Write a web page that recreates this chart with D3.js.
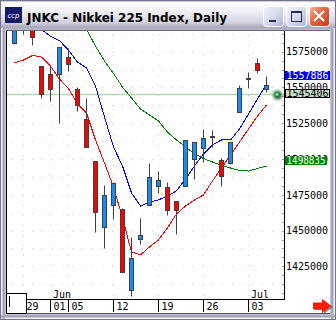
<!DOCTYPE html>
<html>
<head>
<meta charset="utf-8">
<style>
  html, body { margin: 0; padding: 0; background: #fff; }
  svg { display: block; }
  .mono { font-family: "DejaVu Sans Mono", "Liberation Mono", monospace; }
</style>
</head>
<body>
<script src="https://cdnjs.cloudflare.com/ajax/libs/d3/7.8.5/d3.min.js"></script>
<svg id="chart" width="336" height="320"></svg>
<script>
// trading days shown on the chart
const dates = ["05-28","05-29","05-30","05-31","06-01","06-04","06-05","06-06","06-07","06-08",
  "06-11","06-12","06-13","06-14","06-15","06-18","06-19","06-20","06-21","06-22",
  "06-25","06-26","06-27","06-28","06-29","07-02","07-03","07-04","07-05"];

// daily prices
const open  = [1581300,1592000,1590000,1564700,1559300,1559100,1571000,1549000,1527900,1498600,
  1452400,1467700,1465100,1408400,1444400,1467700,1481200,1480300,1470700,1481000,
  1499800,1507500,1516200,1499100,1497400,1532600,1556500,1567000,1549000];
const high  = [1596000,1600000,1595000,1564700,1564700,1578000,1577400,1550200,1542600,1498600,
  1481900,1484000,1465800,1445400,1458800,1497200,1491600,1483700,1470700,1513300,
  1511600,1520900,1520200,1500500,1511900,1551600,1560500,1570500,1558100];
const low   = [1580600,1587200,1579700,1542800,1540700,1525300,1561200,1533300,1508400,1449300,
  1438100,1457900,1421400,1404200,1440900,1467600,1476500,1460700,1447900,1481000,
  1485800,1498100,1508600,1481400,1496500,1532600,1549700,1560200,1546800];
const close = [1592000,1594000,1584900,1545600,1549000,1577900,1566100,1537500,1508700,1462800,
  1474900,1483300,1421400,1431000,1447000,1487400,1485300,1464200,1464200,1513300,
  1511600,1514400,1516200,1488100,1511900,1549300,1556500,1562300,1551400];

// moving averages (red, blue, green)
const maRed   = [1567200,1569100,1572300,1571200,1564900,1555800,1549200,1538400,1532100,1513300,
  1497200,1480500,1458800,1435100,1433000,1438600,1443500,1451900,1461600,1467200,
  1471400,1474900,1484700,1493700,1502800,1511900,1520900,1530000,1537700];
const maBlue  = [1599100,1597000,1594200,1590300,1585800,1582700,1576000,1567700,1563500,1550900,
  1529300,1508400,1495100,1476300,1467200,1470000,1471400,1474200,1477700,1486000,
  1495100,1503500,1509800,1513300,1513300,1520900,1531400,1541900,1552300];
const maGreen = [null,null,null,null,null,null,null,1600500,1590700,1578800,
  1568400,1559700,1550200,1542600,1534900,1530700,1526500,1518800,1513300,1508400,
  1503800,1500300,1497900,1495500,1493700,1492000,1491600,1493400,1495100];

const yTicks = [1425000,1450000,1475000,1500000,1525000,1550000,1575000];
const dayTicks = ["05-29","06-01","06-05","06-12","06-19","06-26","07-03"];
const dayLabels = ["29","01","05","12","19","26","03"];
const monthTicks = ["06-01","07-03"];
const monthLabels = ["Jun","Jul"];
const markerValues = [1557886, 1545406, 1498835];
const title = "JNKC - Nikkei 225 Index, Daily";

const svg = d3.select("#chart");
const W = 336, H = 320;
const plot = {left: 7, right: 284, top: 31, bottom: 299};

const x = d3.scaleBand().domain(dates).range([10, 271]);
const cx = d => x(d) + x.bandwidth() / 2;
const y = d3.scaleLinear().domain([1425000, 1575000]).range([266.4, 51.6]);
const py = v => Math.round(y(v)) + 0.5;

const defs = svg.append("defs");
const tg = defs.append("linearGradient").attr("id", "titleGrad").attr("x1", 0).attr("y1", 0).attr("x2", 0).attr("y2", 1);
[["0", "#b8b8c8"], ["0.06", "#ffffff"], ["0.45", "#ebebf2"], ["0.8", "#d2d2de"], ["1", "#a4a4b8"]]
  .forEach(s => tg.append("stop").attr("offset", s[0]).attr("stop-color", s[1]));
const bg = defs.append("linearGradient").attr("id", "btnGrad").attr("x1", 0).attr("y1", 0).attr("x2", 1).attr("y2", 1);
[["0", "#f2f4fc"], ["0.5", "#d6dcf0"], ["1", "#aab2d2"]]
  .forEach(s => bg.append("stop").attr("offset", s[0]).attr("stop-color", s[1]));
const cg = defs.append("linearGradient").attr("id", "closeGrad").attr("x1", 0).attr("y1", 0).attr("x2", 1).attr("y2", 1);
[["0", "#f8b8a0"], ["0.4", "#e86a48"], ["1", "#c83818"]]
  .forEach(s => cg.append("stop").attr("offset", s[0]).attr("stop-color", s[1]));
defs.append("clipPath").attr("id", "plotClip").append("rect")
  .attr("x", plot.left).attr("y", plot.top).attr("width", plot.right - plot.left).attr("height", plot.bottom - plot.top);
const blur = defs.append("filter").attr("id", "glow").attr("x", "-50%").attr("y", "-50%").attr("width", "200%").attr("height", "200%");
blur.append("feGaussianBlur").attr("stdDeviation", 1.2);

// window frame
svg.append("rect").attr("width", W).attr("height", H).attr("fill", "#c0c0d0");
svg.append("rect").attr("x", 0.5).attr("y", 0.5).attr("width", W - 1).attr("height", H - 1)
  .attr("fill", "none").attr("stroke", "#74748c");
[[1.5, "#f4f4f8"], [2.5, "#cacad8"], [3.5, "#9c9cb2"], [4.5, "#b0b0c4"]].forEach(([o, c]) => {
  svg.append("line").attr("x1", o).attr("x2", o).attr("y1", 28).attr("y2", H - 1).attr("stroke", c);
  svg.append("line").attr("x1", W - o).attr("x2", W - o).attr("y1", 28).attr("y2", H - 1).attr("stroke", c);
  svg.append("line").attr("x1", 1).attr("x2", W - 1).attr("y1", H - o).attr("y2", H - o).attr("stroke", c);
});

// title bar
svg.append("rect").attr("x", 1).attr("y", 1).attr("width", W - 2).attr("height", 27).attr("fill", "url(#titleGrad)");
svg.append("rect").attr("x", 5).attr("y", 7).attr("width", 17).attr("height", 16).attr("fill", "#141a66");
svg.append("text").attr("x", 13.5).attr("y", 17.5).attr("text-anchor", "middle")
  .attr("font-family", "DejaVu Sans").attr("font-style", "italic").attr("font-size", 7).attr("fill", "#fff").text("ccp");
svg.append("text").attr("x", 27).attr("y", 21.5).attr("font-family", "DejaVu Sans").attr("font-weight", "bold")
  .attr("font-size", 13).attr("textLength", 200).attr("lengthAdjust", "spacingAndGlyphs").attr("fill", "#000").text(title);

const btn = (bx, fill) => svg.append("rect").attr("x", bx + 0.5).attr("y", 6.5).attr("width", 20).attr("height", 20)
  .attr("rx", 3).attr("fill", fill).attr("stroke", "#fff");
btn(263, "url(#btnGrad)");
btn(286, "url(#btnGrad)");
btn(309, "url(#closeGrad)");
svg.append("rect").attr("x", 269).attr("y", 20).attr("width", 7).attr("height", 2).attr("fill", "#2c2c4a");
svg.append("rect").attr("x", 291.5).attr("y", 11.5).attr("width", 10).attr("height", 10).attr("fill", "none").attr("stroke", "#2c2c4a");
svg.append("rect").attr("x", 291).attr("y", 11).attr("width", 11).attr("height", 2).attr("fill", "#2c2c4a");
svg.append("path").attr("d", "M314,11L324,21M324,11L314,21").attr("stroke", "#fff").attr("stroke-width", 2.2);

// client area
svg.append("rect").attr("x", 6).attr("y", 28).attr("width", W - 12).attr("height", 3).attr("fill", "#b4b4c4");
svg.append("line").attr("x1", 6).attr("x2", W - 6).attr("y1", 30.5).attr("y2", 30.5).attr("stroke", "#6a6a7a");
svg.append("rect").attr("x", 6).attr("y", 31).attr("width", W - 12).attr("height", 282).attr("fill", "#fff");
svg.append("line").attr("x1", 6.5).attr("x2", 6.5).attr("y1", 31).attr("y2", 313).attr("stroke", "#000");
svg.append("line").attr("x1", 6).attr("x2", W - 6).attr("y1", 313.5).attr("y2", 313.5).attr("stroke", "#50505c");

// grid
const grid = svg.append("g").attr("stroke", "#d0d0d0").attr("stroke-dasharray", "1,9");
d3.range(1412500, 1590000, 12500).forEach(v => {
  grid.append("line").attr("x1", plot.left + 5).attr("x2", plot.right).attr("y1", py(v)).attr("y2", py(v));
});
dayTicks.forEach(d => {
  grid.append("line").attr("x1", cx(d)).attr("x2", cx(d)).attr("y1", plot.top + 4).attr("y2", plot.bottom);
});

const pg = svg.append("g").attr("clip-path", "url(#plotClip)");

// last-price line
pg.append("line").attr("x1", plot.left).attr("x2", plot.right)
  .attr("y1", y(markerValues[1]) + 0.5).attr("y2", y(markerValues[1]) + 0.5)
  .attr("stroke", "#b2dab2").attr("stroke-width", 1.5);

// moving averages
const maLine = d3.line().defined(d => d[1] != null).x(d => cx(d[0])).y(d => y(d[1]));
[[maGreen, "#008000"], [maRed, "#ff0000"], [maBlue, "#0000ff"]].forEach(([vals, col]) => {
  pg.append("path").attr("d", maLine(dates.map((d, i) => [d, vals[i]])))
    .attr("fill", "none").attr("stroke", col).attr("stroke-width", 1).attr("shape-rendering", "crispEdges");
});

// candles
const candles = pg.append("g").selectAll("g").data(dates).join("g");
candles.append("line")
  .attr("x1", d => cx(d)).attr("x2", d => cx(d))
  .attr("y1", (d, i) => py(high[i])).attr("y2", (d, i) => py(low[i]))
  .attr("stroke", "#404040");
candles.append("rect")
  .attr("x", d => cx(d) - 2).attr("width", 4)
  .attr("y", (d, i) => py(Math.max(open[i], close[i])))
  .attr("height", (d, i) => Math.max(1, py(Math.min(open[i], close[i])) - py(Math.max(open[i], close[i]))))
  .attr("fill", (d, i) => close[i] > open[i] ? "#1a8cf0" : close[i] < open[i] ? "#ff0000" : "#404040")
  .attr("stroke", "#404040");

// axes
svg.append("line").attr("x1", plot.right + 0.5).attr("x2", plot.right + 0.5).attr("y1", plot.top).attr("y2", plot.bottom + 0.5).attr("stroke", "#000");
svg.append("line").attr("x1", plot.left).attr("x2", plot.right + 1).attr("y1", plot.bottom + 0.5).attr("y2", plot.bottom + 0.5).attr("stroke", "#000");

const minor = svg.append("g").attr("stroke", "#9a9a9a");
d3.range(1400000, 1595000, 6250).forEach(v => {
  const yy = py(v);
  if (yy > plot.top && yy < plot.bottom) minor.append("line").attr("x1", plot.right - 2).attr("x2", plot.right).attr("y1", yy).attr("y2", yy);
});

const yLab = svg.append("g").attr("class", "mono").attr("font-size", 10).attr("fill", "#000");
yTicks.forEach(v => {
  yLab.append("text").attr("x", 286).attr("y", y(v) + 3.8).attr("textLength", 42).text(v);
});

// date ticks and labels
const xLab = svg.append("g").attr("class", "mono").attr("font-size", 10).attr("fill", "#000");
dayTicks.forEach((d, i) => {
  xLab.append("line").attr("x1", cx(d)).attr("x2", cx(d)).attr("y1", plot.bottom).attr("y2", 312).attr("stroke", "#000");
  xLab.append("text").attr("x", cx(d) + 3).attr("y", 309.5).text(dayLabels[i]);
});
monthTicks.forEach((d, i) => {
  xLab.append("text").attr("x", cx(d) + 2.5).attr("y", 297.5).text(monthLabels[i]);
});

// value boxes on the right axis
const boxStyle = [
  {fill: "#0000ff", stroke: "#0000ff", text: "#fff"},
  {fill: "#c4dcc4", stroke: "#000", text: "#000"},
  {fill: "#008000", stroke: "#008000", text: "#fff"}
];
markerValues.forEach((v, i) => {
  const s = boxStyle[i];
  const yy = Math.round(y(v));
  svg.append("rect").attr("x", 285.5).attr("y", yy - 4.5).attr("width", i === 2 ? 41 : 44).attr("height", 8)
    .attr("fill", s.fill).attr("stroke", s.stroke);
  svg.append("text").attr("class", "mono").attr("x", 286.5).attr("y", yy + 3.3).attr("font-size", 10)
    .attr("textLength", i === 2 ? 39 : 42).attr("lengthAdjust", "spacingAndGlyphs").attr("fill", s.text).text(v);
});

// sparkle marker at the last price
const star = d3.range(16).map(k => {
  const a = k * Math.PI / 8, r = k % 2 ? 2.2 : 6;
  return [277 + r * Math.cos(a), y(markerValues[1]) + 0.5 + r * Math.sin(a)];
});
svg.append("path").attr("d", "M" + star.join("L") + "Z").attr("fill", "#202a20").attr("filter", "url(#glow)")
  .attr("transform", "translate(1,1)");
svg.append("path").attr("d", "M" + star.join("L") + "Z").attr("fill", "#1f8a3c").attr("filter", "url(#glow)");
svg.append("circle").attr("cx", 277).attr("cy", y(markerValues[1]) + 0.5).attr("r", 1.6).attr("fill", "#7be09a");

// bottom-left box
svg.append("rect").attr("x", 6.5).attr("y", 293.5).attr("width", 20).attr("height", 20).attr("fill", "#fff").attr("stroke", "#000");
svg.append("line").attr("x1", 9.5).attr("x2", 9.5).attr("y1", 296).attr("y2", 307).attr("stroke", "#000");

// red arrow
svg.append("path").attr("d", "M315,304H324V300L333,307L324,314V310H315Z").attr("fill", "#404040").attr("opacity", 0.6);
svg.append("path").attr("d", "M313,302.5H322V299L331,306L322,313V309.5H313Z").attr("fill", "#ff1a00");
</script>
</body>
</html>
